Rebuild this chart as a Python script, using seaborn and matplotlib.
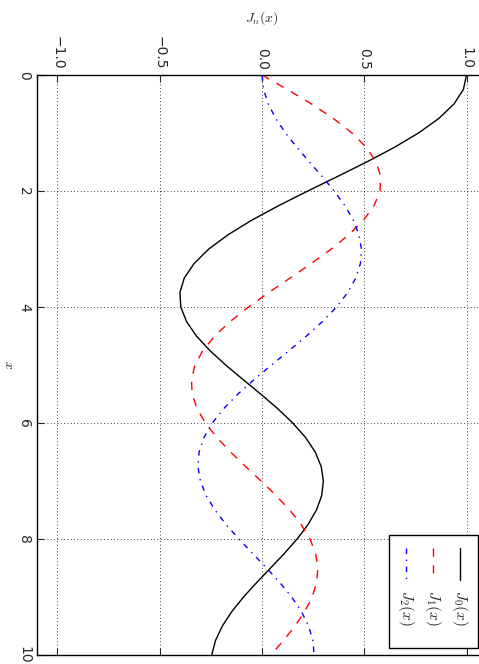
import numpy as np
import pandas as pd
import seaborn as sns
import matplotlib
matplotlib.use("Agg")
import matplotlib.pyplot as plt
from matplotlib.lines import Line2D
from matplotlib.patches import Rectangle

# ---- data ----
x_vals = [0.0, 0.25, 0.5, 0.75, 1.0, 1.25, 1.5, 1.75, 2.0, 2.25, 2.5, 2.75, 3.0, 3.25,
          3.5, 3.75, 4.0, 4.25, 4.5, 4.75, 5.0, 5.25, 5.5, 5.75, 6.0, 6.25, 6.5, 6.75,
          7.0, 7.25, 7.5, 7.75, 8.0, 8.25, 8.5, 8.75, 9.0, 9.25, 9.5, 9.75, 10.0]
j0_vals = [1.0, 0.9844, 0.9385, 0.8642, 0.7652, 0.6459, 0.5118, 0.3690, 0.2239, 0.0828,
           -0.0484, -0.1641, -0.2601, -0.3318, -0.3801, -0.4013, -0.3971, -0.3691, -0.3205,
           -0.2551, -0.1776, -0.0931, -0.0068, 0.0759, 0.1506, 0.2130, 0.2601, 0.2894,
           0.3001, 0.2919, 0.2663, 0.2252, 0.1717, 0.1092, 0.0419, -0.0259, -0.0903,
           -0.1474, -0.1939, -0.2273, -0.2459]
j1_vals = [0.0, 0.1240, 0.2423, 0.3492, 0.4401, 0.5106, 0.5579, 0.5801, 0.5767, 0.5483,
           0.4971, 0.4260, 0.3391, 0.2411, 0.1374, 0.0333, -0.0660, -0.1555, -0.2311,
           -0.2892, -0.3276, -0.3450, -0.3414, -0.3179, -0.2767, -0.2207, -0.1538, -0.0803,
           -0.0047, 0.0685, 0.1352, 0.1915, 0.2346, 0.2621, 0.2731, 0.2672, 0.2453,
           0.2091, 0.1613, 0.1049, 0.0435]
j2_vals = [0.0, 0.0078, 0.0306, 0.0671, 0.1149, 0.1711, 0.2321, 0.2940, 0.3528, 0.4047,
           0.4461, 0.4739, 0.4861, 0.4811, 0.4586, 0.4191, 0.3641, 0.2959, 0.2178,
           0.1333, 0.0466, -0.0383, -0.1173, -0.1865, -0.2429, -0.2837, -0.3074, -0.3132,
           -0.3014, -0.2731, -0.2303, -0.1758, -0.1130, -0.0457, 0.0223, 0.0870, 0.1448,
           0.1926, 0.2279, 0.2488, 0.2546]
series_labels = [r"$J_0(x)$", r"$J_1(x)$", r"$J_2(x)$"]
j_ticks = [-1.0, -0.5, 0.0, 0.5, 1.0]
x_ticks = [0, 2, 4, 6, 8, 10]

sns.set_style("white")
plt.rcParams["font.family"] = ["DejaVu Sans"]
plt.rcParams["mathtext.fontset"] = "cm"

W, H = 479, 664
fig = plt.figure(figsize=(W / 100, H / 100), dpi=100)
ax_left, ax_right = 37, 487
ax_top, ax_bottom = 75, 655
ax = fig.add_axes([ax_left / W, 1 - ax_bottom / H, (ax_right - ax_left) / W, (ax_bottom - ax_top) / H])

styles = [dict(color="black", linestyle="-"),
          dict(color="red", linestyle=(0, (6, 6))),
          dict(color="blue", linestyle=(0, (4, 4, 1, 4)))]
for vals, st in zip([j0_vals, j1_vals, j2_vals], styles):
    df = pd.DataFrame({"x": x_vals, "J": vals})
    sns.lineplot(data=df, x="J", y="x", orient="y", estimator=None, sort=False,
                 ax=ax, lw=1.0, **st)

ax.set_xlim(-1.1, 1.1)
ax.set_ylim(10, 0)
ax.xaxis.tick_top()
ax.xaxis.set_label_position("top")
ax.set_xticks(j_ticks)
ax.set_xticklabels([f"{t:.1f}".replace("-", "\u2212") for t in j_ticks], rotation=270, fontsize=10)
ax.set_yticks(x_ticks)
ax.set_yticklabels([str(t) for t in x_ticks], rotation=270, fontsize=10, va="center")
ax.tick_params(direction="in", length=5, width=0.8, top=True, bottom=True, left=True, right=True,
               pad=4)
ax.set_xlabel(r"$J_n(x)$", fontsize=10, labelpad=10)
ax.set_ylabel(r"$x$", fontsize=10, rotation=270, labelpad=6, va="center")
ax.grid(True, color="black", linestyle=(0, (1, 3)), linewidth=0.6)
for s in ax.spines.values():
    s.set_linewidth(1.0)
    s.set_color("black")

# rotated legend drawn by hand
def fx(px):
    return px / W

def fy(py):
    return 1 - py / H

fig.patches.append(Rectangle((fx(389), fy(648)), fx(478) - fx(389), fy(535) - fy(648),
                             transform=fig.transFigure, facecolor="white",
                             edgecolor="black", linewidth=1.0, zorder=5))
cols = [460, 433, 406]
for cx, st, lab in zip(cols, styles, series_labels):
    fig.add_artist(Line2D([fx(cx), fx(cx)], [fy(548), fy(580)], transform=fig.transFigure,
                          lw=1.0, zorder=6, **st))
    fig.text(fx(cx), fy(590), lab, rotation=270, ha="center", va="top", fontsize=11, zorder=6)

fig.savefig("out.png", dpi=100)
